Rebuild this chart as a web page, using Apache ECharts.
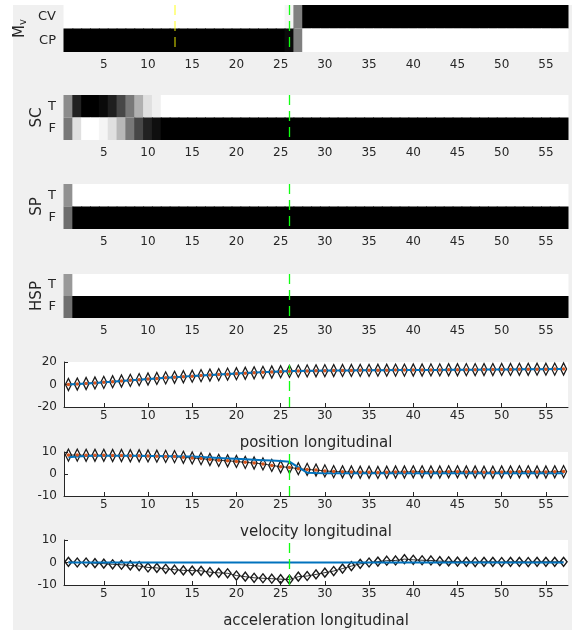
<!DOCTYPE html>
<html>
<head>
<meta charset="utf-8">
<script src="https://cdn.jsdelivr.net/npm/echarts@6/dist/echarts.min.js"></script>
<style>
  html, body { margin: 0; padding: 0; background: #fff; }
  #chart { width: 572px; height: 633px; }
</style>
</head>
<body>
<div id="chart"></div>
<script>
// time steps on the x axis
const steps = ['1','2','3','4','5','6','7','8','9','10','11','12','13','14','15','16','17','18','19','20',
  '21','22','23','24','25','26','27','28','29','30','31','32','33','34','35','36','37','38','39','40',
  '41','42','43','44','45','46','47','48','49','50','51','52','53','54','55','56','57'];

// model probabilities (black = 1, white = 0)
const mvCV = [0,0,0,0,0,0,0,0,0,0, 0,0,0,0,0,0,0,0,0,0, 0,0,0,0,0,0.04,0.5,1,1,1,
  1,1,1,1,1,1,1,1,1,1, 1,1,1,1,1,1,1,1,1,1, 1,1,1,1,1,1,1];
const mvCP = [1,1,1,1,1,1,1,1,1,1, 1,1,1,1,1,1,1,1,1,1, 1,1,1,1,1,0.96,0.5,0,0,0,
  0,0,0,0,0,0,0,0,0,0, 0,0,0,0,0,0,0,0,0,0, 0,0,0,0,0,0,0];
const scT = [0.45,0.87,1,1,0.96,0.88,0.72,0.53,0.31,0.12, 0.06,0,0,0,0,0,0,0,0,0,
  0,0,0,0,0,0,0,0,0,0, 0,0,0,0,0,0,0,0,0,0, 0,0,0,0,0,0,0,0,0,0, 0,0,0,0,0,0,0];
const scF = [0.53,0.12,0,0,0.04,0.12,0.28,0.53,0.72,0.87, 0.94,1,1,1,1,1,1,1,1,1,
  1,1,1,1,1,1,1,1,1,1, 1,1,1,1,1,1,1,1,1,1, 1,1,1,1,1,1,1,1,1,1, 1,1,1,1,1,1,1];
const spT = [0.43,0,0,0,0,0,0,0,0,0, 0,0,0,0,0,0,0,0,0,0, 0,0,0,0,0,0,0,0,0,0,
  0,0,0,0,0,0,0,0,0,0, 0,0,0,0,0,0,0,0,0,0, 0,0,0,0,0,0,0];
const spF = [0.57,1,1,1,1,1,1,1,1,1, 1,1,1,1,1,1,1,1,1,1, 1,1,1,1,1,1,1,1,1,1,
  1,1,1,1,1,1,1,1,1,1, 1,1,1,1,1,1,1,1,1,1, 1,1,1,1,1,1,1];
const hspT = [0.4,0,0,0,0,0,0,0,0,0, 0,0,0,0,0,0,0,0,0,0, 0,0,0,0,0,0,0,0,0,0,
  0,0,0,0,0,0,0,0,0,0, 0,0,0,0,0,0,0,0,0,0, 0,0,0,0,0,0,0];
const hspF = [0.56,1,1,1,1,1,1,1,1,1, 1,1,1,1,1,1,1,1,1,1, 1,1,1,1,1,1,1,1,1,1,
  1,1,1,1,1,1,1,1,1,1, 1,1,1,1,1,1,1,1,1,1, 1,1,1,1,1,1,1];

// longitudinal state: estimate (diamonds / dots) and reference (blue line)
const posEst = [0,0.4,0.9,1.4,1.9,2.5,3.1,3.7,4.3,4.9, 5.4,5.9,6.4,6.9,7.4,7.9,8.4,8.8,9.2,9.6,
  10.0,10.4,10.8,11.1,11.4,11.7,11.9,12.1,12.2,12.3, 12.4,12.5,12.5,12.6,12.6,12.7,12.7,12.8,12.8,12.9,
  12.9,13.0,13.0,13.1,13.1,13.2,13.2,13.3,13.3,13.4, 13.4,13.5,13.5,13.6,13.6,13.7,13.8];
const posRef = [0,0.4,0.9,1.4,2.0,2.5,3.1,3.7,4.3,4.9, 5.4,5.9,6.5,7.0,7.5,8.0,8.5,8.9,9.3,9.8,
  10.2,10.6,11.0,11.3,11.6,11.9,12.1,12.2,12.3,12.4, 12.4,12.5,12.5,12.6,12.6,12.7,12.7,12.8,12.8,12.9,
  12.9,13.0,13.0,13.1,13.1,13.2,13.2,13.3,13.3,13.4, 13.4,13.5,13.5,13.6,13.6,13.7,13.8];
const velEst = [8.6,8.6,8.5,8.5,8.5,8.4,8.4,8.3,8.3,8.2, 8.1,8.0,7.9,7.6,7.3,7.0,6.6,6.2,6.0,5.7,
  5.3,5.0,4.6,3.9,3.3,3.0,2.4,2.1,1.8,1.4, 1.1,1.0,0.9,0.8,0.8,0.7,0.8,0.9,0.9,1.0,
  1.0,0.9,0.9,1.0,1.0,0.9,0.9,0.8,0.8,0.9, 0.9,1.0,1.0,0.9,0.9,1.0,1.1];
const velRef = [7.6,8.0,8.2,8.3,8.3,8.3,8.3,8.3,8.3,8.2, 8.2,8.1,8.1,8.0,7.9,7.7,7.5,7.3,7.1,6.9,
  6.7,6.5,6.3,6.1,5.9,5.6,3.0,0.6,0.4,0.3, 0.3,0.3,0.3,0.3,0.3,0.3,0.3,0.3,0.3,0.3,
  0.3,0.3,0.3,0.3,0.3,0.3,0.3,0.3,0.3,0.3, 0.3,0.3,0.3,0.3,0.3,0.3,0.3];
const accEst = [0.3,0,0,-0.3,-0.5,-0.8,-1.0,-1.3,-1.6,-2.2, -2.4,-2.8,-3.2,-3.5,-3.6,-3.7,-4.3,-4.6,-4.8,-5.8,
  -6.3,-6.8,-7.0,-7.2,-7.4,-7.6,-6.3,-6.0,-5.3,-4.5, -3.8,-2.7,-1.6,-0.6,0,0.4,0.8,0.9,1.5,1.2,
  1.0,0.9,0.6,0.5,0.4,0.3,0.2,0.3,0.3,0.2, 0.3,0.3,0.2,0.3,0.3,0.3,0.3];
const accRef = [0,0,0,0,0,0,0,0,0,0, 0,0,0,0,0,0,0,0,0,0, 0,0,0,0,0,0,0,0,0,0,
  0,0,0,0,0,0,0,0,0,0, 0,0,0,0,0,0,0,0,0,0, 0,0,0,0,0,0,0];

const eventStep = '26';
const switchStep = '13';

const chart = echarts.init(document.getElementById('chart'));
const ink = '#262626';
const every5 = (i) => (i + 1) % 5 === 0;

const grids = [
  { left: 64, right: 4, top: 5, height: 47 },
  { left: 64, right: 4, top: 95, height: 45 },
  { left: 64, right: 4, top: 184, height: 45 },
  { left: 64, right: 4, top: 274, height: 44 },
  { left: 64, right: 4, top: 362, height: 45, show: true, backgroundColor: '#fff', borderWidth: 0 },
  { left: 64, right: 4, top: 452, height: 44, show: true, backgroundColor: '#fff', borderWidth: 0 },
  { left: 64, right: 4, top: 540, height: 45, show: true, backgroundColor: '#fff', borderWidth: 0 }
];

const xNames = ['', '', '', '', 'position longitudinal', 'velocity longitudinal', 'acceleration longitudinal'];
const xAxes = grids.map((g, i) => ({
  type: 'category',
  gridIndex: i,
  data: steps,
  boundaryGap: true,
  axisLine: { show: i >= 4, onZero: false, lineStyle: { color: ink, width: 1 } },
  axisTick: { show: i >= 4, inside: true, length: 4, alignWithLabel: true, interval: every5,
    lineStyle: { color: ink } },
  axisLabel: { interval: every5, color: ink, fontSize: 12, margin: i >= 4 ? 3 : 7 },
  name: xNames[i],
  nameLocation: 'middle',
  nameGap: 29,
  nameMoveOverlap: false,
  nameTextStyle: { color: ink, fontSize: 15 }
}));

const heatY = (rows, name, gap) => ({
  type: 'category',
  data: rows,
  inverse: true,
  axisLine: { show: false },
  axisTick: { show: false },
  axisLabel: { color: ink, fontSize: 13, margin: 8 },
  name: name,
  nameLocation: 'middle',
  nameRotate: 90,
  nameGap: gap,
  nameMoveOverlap: false,
  nameTextStyle: { color: ink, fontSize: 15, rich: {
    m: { fontSize: 15, color: ink },
    v: { fontSize: 10, color: ink, verticalAlign: 'bottom', padding: [6, 0, 0, 0] }
  } }
});
const lineY = (lim, step) => ({
  type: 'value',
  min: -lim, max: lim, interval: step,
  axisLine: { show: true, lineStyle: { color: ink, width: 1 } },
  axisTick: { show: true, inside: true, length: 4, lineStyle: { color: ink } },
  splitLine: { show: false },
  axisLabel: { color: ink, fontSize: 12, margin: 7 }
});
const yAxes = [
  heatY(['CV', 'CP'], '{m|M}{v|v}', 36),
  heatY(['T', 'F'], 'SC', 19),
  heatY(['T', 'F'], 'SP', 19),
  heatY(['T', 'F'], 'HSP', 19),
  lineY(20, 20),
  lineY(10, 10),
  lineY(10, 10)
].map((a, i) => Object.assign(a, { gridIndex: i }));

const dashedAt = (step, color, width, opacity) => ({
  xAxis: step,
  lineStyle: { color: color, type: [10, 6], width: width, opacity: opacity }
});
const markLine = (extra) => ({
  silent: true, symbol: 'none', animation: false,
  label: { show: false },
  emphasis: { disabled: true },
  data: [dashedAt(eventStep, '#11ff11', 1.3, 1)].concat(extra || [])
});

const heatData = (top, bottom) => {
  const out = [];
  top.forEach((v, i) => out.push([i, 0, v]));
  bottom.forEach((v, i) => out.push([i, 1, v]));
  return out;
};
const cell = (params, api) => {
  const p = api.coord([api.value(0), api.value(1)]);
  const s = api.size([1, 1]);
  return {
    type: 'rect',
    shape: { x: p[0] - s[0] / 2 - 0.5, y: p[1] - s[1] / 2, width: s[0] + 1, height: s[1] },
    style: { fill: api.visual('color') }
  };
};
const heat = (i, top, bottom, extra) => ({
  type: 'custom', xAxisIndex: i, yAxisIndex: i,
  renderItem: cell,
  dimensions: ['x', 'y', 'p'],
  encode: { x: 0, y: 1 },
  data: heatData(top, bottom),
  emphasis: { disabled: true },
  markLine: markLine(extra)
});

const stateSeries = (i, est, ref, dots, diamond) => {
  const s = [
    {
      type: 'line', xAxisIndex: i, yAxisIndex: i, data: est.slice(), symbol: 'none', z: 2,
      lineStyle: { color: '#000', width: 0.8 },
      emphasis: { disabled: true }
    },
    {
      type: 'line', xAxisIndex: i, yAxisIndex: i, data: est.slice(), z: 3,
      symbol: 'diamond', symbolSize: diamond, showSymbol: true, showAllSymbol: true,
      lineStyle: { width: 0, opacity: 0 },
      itemStyle: { color: 'rgba(0,0,0,0)', borderColor: '#1a1a1a', borderWidth: 1.4 },
      emphasis: { disabled: true }
    },
    {
      type: 'line', xAxisIndex: i, yAxisIndex: i, data: ref, symbol: 'none', z: 4,
      lineStyle: { color: '#0072BD', width: 2 },
      emphasis: { disabled: true },
      markLine: markLine()
    }
  ];
  if (dots) {
    s.push({
      type: 'line', xAxisIndex: i, yAxisIndex: i, data: est.slice(), z: 6,
      symbol: 'circle', symbolSize: 3.5, showSymbol: true, showAllSymbol: true,
      lineStyle: { width: 0, opacity: 0 },
      itemStyle: { color: '#D95319', borderWidth: 0 },
      emphasis: { disabled: true }
    });
  }
  return s;
};

chart.setOption({
  animation: false,
  textStyle: { fontFamily: 'DejaVu Sans' },
  graphic: [{
    type: 'rect', silent: true, z: -100,
    shape: { x: 13, y: 5, width: 559, height: 625 },
    style: { fill: '#f0f0f0' }
  }],
  grid: grids,
  xAxis: xAxes,
  yAxis: yAxes,
  visualMap: {
    show: false, type: 'continuous', min: 0, max: 1, dimension: 2,
    seriesIndex: [0, 1, 2, 3],
    inRange: { color: ['#ffffff', '#000000'] }
  },
  series: [
    heat(0, mvCV, mvCP, [dashedAt(switchStep, '#ffff00', 1.5, 0.6)]),
    heat(1, scT, scF),
    heat(2, spT, spF),
    heat(3, hspT, hspF)
  ].concat(
    stateSeries(4, posEst, posRef, true, [6, 12]),
    stateSeries(5, velEst, velRef, true, [6, 12]),
    stateSeries(6, accEst, accRef, false, [7, 9])
  )
});
</script>
</body>
</html>
